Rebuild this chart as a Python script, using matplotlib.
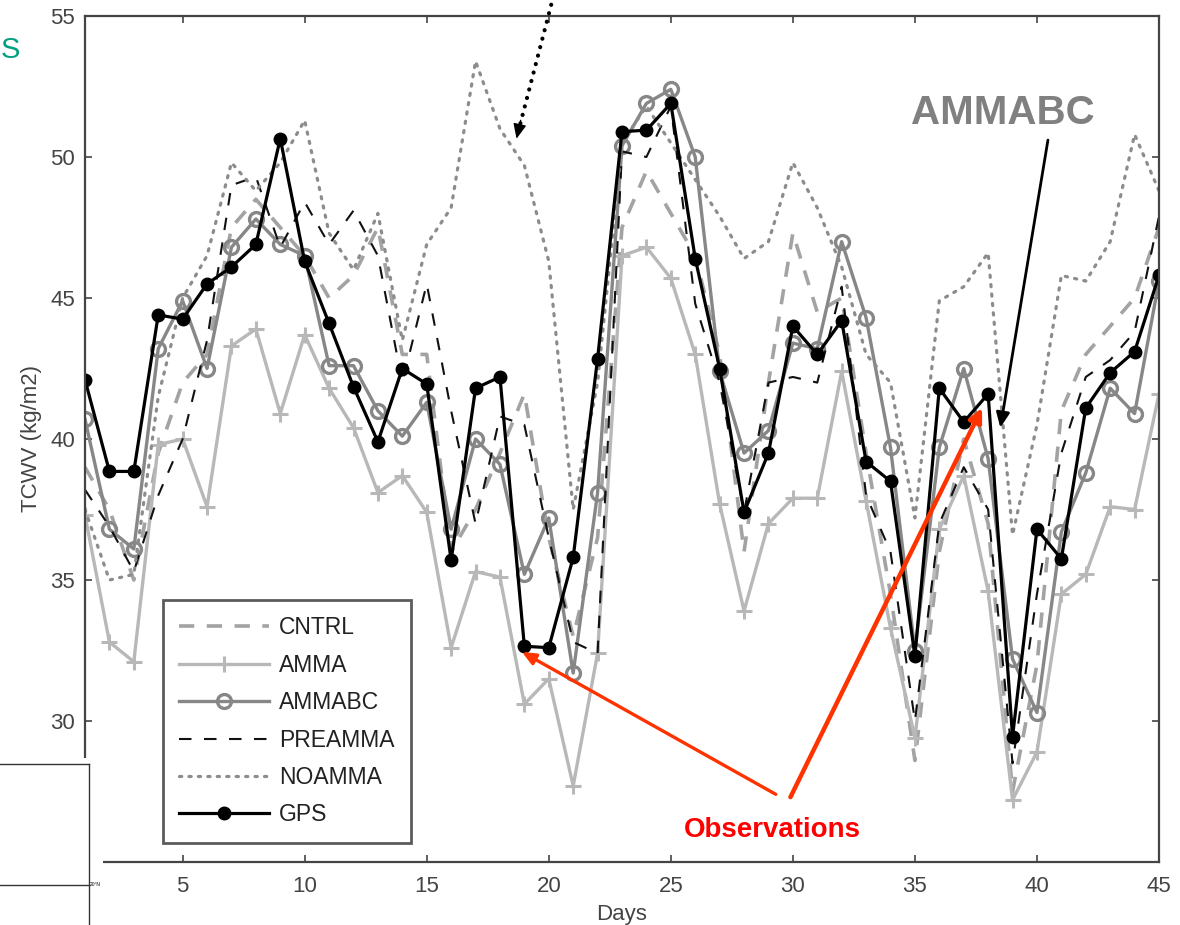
import matplotlib
matplotlib.use("Agg")
import matplotlib.pyplot as plt
import numpy as np
from matplotlib.patches import Rectangle
from matplotlib.lines import Line2D

plt.rcParams['font.family'] = ['Liberation Sans', 'DejaVu Sans']
plt.rcParams['lines.scale_dashes'] = False

days = np.arange(1, 46)

cntrl = [39.0, 37.5, 35.0, 39.5, 42.0, 43.0, 47.5, 48.5, 47.5, 46.5,
         45.0, 45.8, 47.5, 43.0, 43.0, 36.0, 37.5, 39.5, 41.6, 36.5,
         33.0, 36.5, 47.5, 49.5, 48.0, 46.5, 43.0, 36.0, 42.0, 47.3,
         44.5, 45.0, 39.5, 34.5, 28.6, 36.0, 40.0, 37.0, 27.5, 32.0,
         41.0, 43.0, 44.0, 45.0, 47.5]
amma = [37.3, 32.8, 32.1, 39.8, 40.0, 37.6, 43.3, 43.9, 40.9, 43.7,
        41.8, 40.4, 38.1, 38.7, 37.4, 32.6, 35.3, 35.1, 30.6, 31.5,
        27.7, 32.4, 46.5, 46.8, 45.7, 43.0, 37.7, 33.9, 37.0, 37.9,
        37.9, 42.4, 37.8, 33.3, 29.4, 36.8, 38.7, 34.6, 27.2, 28.9,
        34.5, 35.2, 37.6, 37.5, 41.6]
ammabc = [40.7, 36.8, 36.1, 43.2, 44.9, 42.5, 46.8, 47.8, 46.9, 46.5,
          42.6, 42.6, 41.0, 40.1, 41.3, 36.8, 40.0, 39.1, 35.2, 37.2,
          31.7, 38.1, 50.4, 51.9, 52.4, 50.0, 42.4, 39.5, 40.3, 43.4,
          43.2, 47.0, 44.3, 39.7, 32.5, 39.7, 42.5, 39.3, 32.2, 30.3,
          36.7, 38.8, 41.8, 40.9, 45.6]
preamma = [38.2, 36.9, 35.3, 38.0, 40.0, 43.5, 49.0, 49.3, 46.8, 48.4,
           46.9, 48.1, 46.5, 42.0, 45.5, 41.0, 37.0, 40.8, 40.5, 36.5,
           32.8, 32.4, 50.2, 50.0, 51.8, 44.8, 42.0, 37.4, 42.0, 42.2,
           42.0, 45.4, 38.0, 36.0, 30.0, 37.0, 39.0, 37.5, 28.5, 34.5,
           39.5, 42.2, 42.8, 43.8, 47.9]
noamma = [37.5, 35.0, 35.2, 41.5, 45.0, 46.5, 49.8, 48.8, 49.8, 51.3,
          47.3, 46.0, 48.0, 43.5, 46.9, 48.2, 53.4, 51.0, 49.7, 46.3,
          37.5, 42.0, 50.5, 51.8, 50.5, 49.2, 47.9, 46.4, 47.0, 49.8,
          48.2, 46.1, 43.0, 42.0, 37.2, 44.9, 45.4, 46.6, 36.6, 40.5,
          45.8, 45.6, 47.0, 50.8, 48.8]
gps = [42.1, 38.85, 38.85, 44.4, 44.25, 45.5, 46.1, 46.9, 50.65, 46.3,
       44.1, 41.85, 39.9, 42.5, 41.95, 35.7, 41.8, 42.2, 32.65, 32.6,
       35.8, 42.85, 50.9, 50.95, 51.9, 46.4, 42.5, 37.4, 39.5, 44.0,
       43.0, 44.2, 39.2, 38.5, 32.3, 41.8, 40.6, 41.6, 29.45, 36.8,
       35.75, 41.1, 42.35, 43.1, 45.8]

fig = plt.figure(figsize=(11.8, 9.25), dpi=100)
ax = fig.add_axes([85 / 1180, 1 - 862 / 925, 1074 / 1180, 846 / 925])

ax.plot(days, cntrl, color='#a3a3a3', lw=2.6, dashes=(11, 9), label='CNTRL')
ax.plot(days, amma, color='#b8b8b8', lw=2.4, marker='+', ms=11, mew=2.2,
        label='AMMA')
ax.plot(days, ammabc, color='#878787', lw=2.4, marker='o', ms=10, mew=2.4,
        mfc='none', label='AMMABC')
ax.plot(days, preamma, color='#111111', lw=1.5, dashes=(9, 9),
        label='PREAMMA')
ax.plot(days, noamma, color='#8c8c8c', lw=2.3, dashes=(1.6, 5.2),
        dash_capstyle='round', label='NOAMMA')
ax.plot(days, gps, color='black', lw=2.3, marker='o', ms=9, label='GPS')

ax.set_xlim(1, 45)
ax.set_ylim(25, 55)
ax.set_xticks(np.arange(5, 46, 5))
ax.set_yticks(np.arange(25, 56, 5))
ax.tick_params(direction='in', top=True, right=True, length=5, width=1.2,
               labelsize=16, colors='#444444', pad=7)
ax.tick_params(axis='x', pad=10)
for s in ax.spines.values():
    s.set_color('#444444')
    s.set_linewidth(1.6)
ax.set_xlabel('Days', fontsize=16, color='#444444', labelpad=5)
ax.set_ylabel('TCWV (kg/m2)', fontsize=16, color='#444444', labelpad=6)

leg = ax.legend(loc='lower left', bbox_to_anchor=(0.0726, 0.0225),
                fontsize=16.5, handlelength=3.9, handletextpad=0.45,
                labelspacing=0.63, borderpad=0.72, borderaxespad=0,
                fancybox=False, frameon=True)
leg.get_frame().set_edgecolor('#333333')
leg.get_frame().set_linewidth(2)
for t in leg.get_texts():
    t.set_color('#222222')

# annotations
ax.annotate('', xy=(18.75, 50.9), xytext=(20.1, 55.4), annotation_clip=False,
            arrowprops=dict(arrowstyle='-', color='black', lw=3,
                            linestyle=(0, (0.1, 6.2)), capstyle='round',
                            shrinkA=0, shrinkB=0))
ax.annotate('', xy=(18.68, 50.65), xytext=(18.85, 51.3),
            arrowprops=dict(arrowstyle='-|>,head_length=0.9,head_width=0.4',
                            color='black', lw=1, shrinkA=0, shrinkB=0))
ax.text(38.6, 51.55, 'AMMABC', fontsize=29, fontweight='bold',
        color='#808080', ha='center', va='center')
ax.annotate('', xy=(38.5, 40.4), xytext=(40.45, 50.6),
            arrowprops=dict(arrowstyle='-|>,head_length=0.9,head_width=0.4',
                            color='black', lw=2, shrinkA=0, shrinkB=0))
ax.text(29.15, 26.15, 'Observations', fontsize=20, fontweight='bold',
        color='#ff0000', ha='center', va='center')
ax.annotate('', xy=(37.75, 41.1), xytext=(29.9, 27.3),
            arrowprops=dict(arrowstyle='-|>,head_length=0.8,head_width=0.4',
                            color='#ff3300', lw=3.2, shrinkA=0, shrinkB=0))
ax.annotate('', xy=(18.9, 32.45), xytext=(29.3, 27.4),
            arrowprops=dict(arrowstyle='-|>,head_length=0.8,head_width=0.35',
                            color='#ff3300', lw=2.4, shrinkA=0, shrinkB=0))

# bits of the slide around the chart
fig.text(1 / 1180, 1 - 50 / 925, 'S', fontsize=21, color='#00a080',
         ha='left', va='center')
fig.add_artist(Rectangle((0, 0), 103 / 1180, (925 - 758) / 925,
                         transform=fig.transFigure, facecolor='white',
                         edgecolor='none', zorder=10))
for xs, ys in [([0, 89], [764, 764]), ([89, 89], [764, 925]),
               ([0, 89], [885, 885])]:
    fig.add_artist(Line2D([x / 1180 for x in xs], [1 - y / 925 for y in ys],
                          transform=fig.transFigure, color='#333333',
                          lw=1, zorder=11))
fig.text(90 / 1180, 1 - 885 / 925, '20°N', fontsize=3.5, color='black',
         ha='left', va='center', zorder=12)

fig.savefig('out.png', dpi=100)
